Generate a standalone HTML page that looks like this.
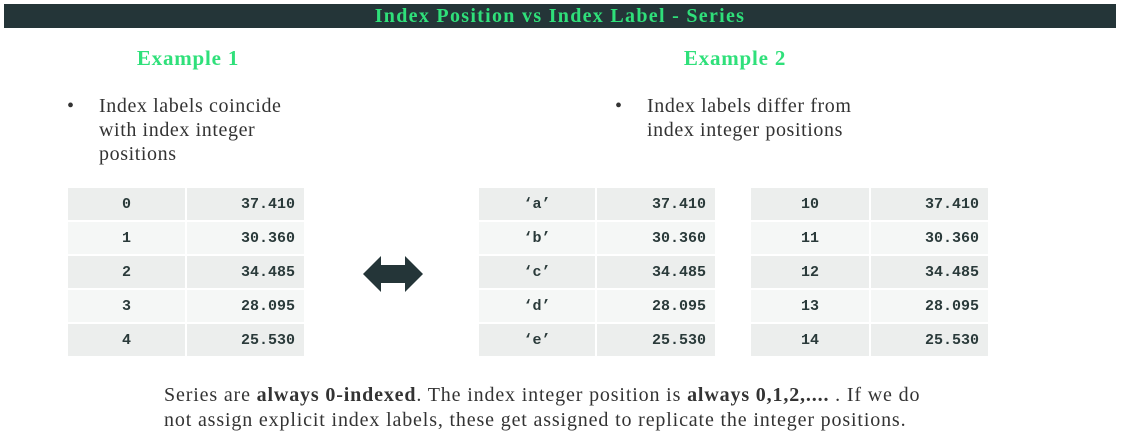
<!DOCTYPE html>
<html><head><meta charset="utf-8"><style>
body{margin:0;width:1122px;height:448px;background:#fff;position:relative;overflow:hidden;font-family:"Liberation Serif",serif;color:#333}
.abs{position:absolute}
#title{left:4px;top:4px;width:1112px;height:24px;background:#243538;color:#2fe07a;font-weight:bold;font-size:20px;letter-spacing:1.3px;text-align:center;line-height:24px}
.ex{color:#2fe07a;font-weight:bold;font-size:21px;letter-spacing:0.8px;top:46px;width:300px;text-align:center}
.bul{font-size:20px;line-height:24px;color:#333;letter-spacing:0.6px}
.bul span.dot{position:absolute;left:-32px}
table{position:absolute;border-collapse:separate;border-spacing:2px;font-family:"Liberation Mono",monospace;font-weight:bold;font-size:15px;color:#2a3a3a}
td{height:32px;padding:0}
tr:nth-child(odd) td{background:#eceeed}
tr:nth-child(even) td{background:#f5f7f6}
td.k{text-align:center}
td.v{text-align:right;padding-right:9px}
#foot{left:164px;top:383px;font-size:20px;line-height:25px;letter-spacing:0.85px;color:#333;white-space:nowrap}
</style></head><body>
<div id="title" class="abs">Index Position vs Index Label - Series</div>
<div class="abs ex" style="left:38px">Example 1</div>
<div class="abs ex" style="left:585px">Example 2</div>
<div class="abs bul" style="left:99px;top:94px"><span class="dot">•</span>Index labels coincide<br>with index integer<br>positions</div>
<div class="abs bul" style="left:647px;top:94px"><span class="dot">•</span>Index labels differ from<br>index integer positions</div>

<table style="left:66px;top:186px">
<tr><td class="k" style="width:117px">0</td><td class="v" style="width:108px">37.410</td></tr>
<tr><td class="k">1</td><td class="v">30.360</td></tr>
<tr><td class="k">2</td><td class="v">34.485</td></tr>
<tr><td class="k">3</td><td class="v">28.095</td></tr>
<tr><td class="k">4</td><td class="v">25.530</td></tr>
</table>
<table style="left:477px;top:186px">
<tr><td class="k" style="width:116px">‘a’</td><td class="v" style="width:109px">37.410</td></tr>
<tr><td class="k">‘b’</td><td class="v">30.360</td></tr>
<tr><td class="k">‘c’</td><td class="v">34.485</td></tr>
<tr><td class="k">‘d’</td><td class="v">28.095</td></tr>
<tr><td class="k">‘e’</td><td class="v">25.530</td></tr>
</table>
<table style="left:749px;top:186px">
<tr><td class="k" style="width:118px">10</td><td class="v" style="width:108px">37.410</td></tr>
<tr><td class="k">11</td><td class="v">30.360</td></tr>
<tr><td class="k">12</td><td class="v">34.485</td></tr>
<tr><td class="k">13</td><td class="v">28.095</td></tr>
<tr><td class="k">14</td><td class="v">25.530</td></tr>
</table>

<svg class="abs" style="left:360px;top:254px" width="66" height="40">
<polygon points="3,20 21,2 21,11 45,11 45,2 63,20 45,38 45,29 21,29 21,38" fill="#243538"/>
</svg>

<div id="foot" class="abs">Series are <b>always 0-indexed</b>. The index integer position is <b>always 0,1,2,....</b> . If we do<br>not assign explicit index labels, these get assigned to replicate the integer positions.</div>
</body></html>
